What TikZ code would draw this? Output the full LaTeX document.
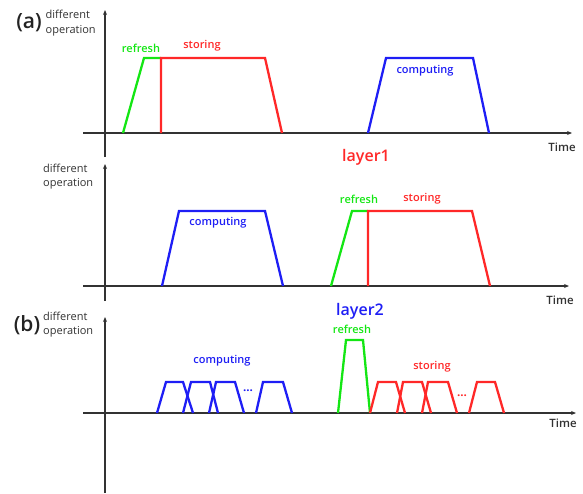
\documentclass[tikz,border=0pt]{standalone}
\usepackage{fontspec}
\setmainfont{Open Sans}
\newfontfamily\semib{Open Sans Semibold}
\usetikzlibrary{arrows.meta}
\definecolor{pgreen}{RGB}{20,230,20}
\definecolor{pred}{RGB}{255,40,40}
\definecolor{pblue}{RGB}{30,30,245}
\definecolor{axisgray}{RGB}{50,50,50}
\tikzset{
  axis/.style={draw=axisgray,line width=1.3pt},
  axarrow/.style={axis,-{Stealth[length=5pt,width=4pt]}},
  pulse/.style={line width=2.3pt,line join=miter},
  refreshline/.style={pulse,draw=pgreen},
  storeline/.style={pulse,draw=pred},
  computeline/.style={pulse,draw=pblue},
  opname/.style={font=\semib\fontsize{11}{12}\selectfont,inner sep=0pt},
  dotsmark/.style={font=\bfseries\fontsize{11.5}{12}\selectfont,inner sep=0pt},
  ylabel/.style={font=\fontsize{11}{14.5}\selectfont,text=axisgray,align=left,inner sep=0pt,anchor=west},
  tlabel/.style={font=\semib\fontsize{11.5}{13}\selectfont,text=axisgray,inner sep=0pt},
  panellabel/.style={font=\semib\fontsize{21}{22}\selectfont,text=axisgray!70!black,inner sep=0pt},
  layerlabel/.style={font=\semib\fontsize{16}{17}\selectfont,inner sep=0pt}
}
\begin{document}
\begin{tikzpicture}[x=1pt,y=-1pt]
\useasboundingbox (0,0) rectangle (583,493);

% ---------- panel (a) ----------
\coordinate (ya0) at (105,157);
\coordinate (ya1) at (105,10);
\coordinate (xa0) at (83,133);
\coordinate (xa1) at (572,133);
\draw[axarrow] (ya0) -- (ya1);
\draw[axarrow] (xa0) -- (xa1);
\node[panellabel] (pa) at (29,23) {(a)};
\node[ylabel] (yla) at (45.5,23) {different\\operation};
\node[tlabel] (ta) at (562,147) {Time};

\draw[refreshline] (123,133) -- (144,58) -- (161,58);
\draw[storeline] (161,133) -- (161,58) -- (265,58) -- (282,133);
\draw[computeline] (368,133) -- (386,58) -- (473,58) -- (489,133);
\node[opname,text=pgreen] (ra) at (141,48) {refresh};
\node[opname,text=pred] (sa) at (202,46) {storing};
\node[opname,text=pblue] (ca) at (425,71) {computing};

% ---------- layer1 ----------
\node[layerlabel,text=pred] (l1) at (366,157) {layer1};
\coordinate (y10) at (105,301);
\coordinate (y11) at (105,164);
\coordinate (x10) at (83,286);
\coordinate (x11) at (569,286);
\draw[axarrow] (y10) -- (y11);
\draw[axarrow] (x10) -- (x11);
\node[ylabel] (yl1) at (43,176.5) {different\\operation};
\node[tlabel] (t1) at (560,300) {Time};

\draw[computeline] (162,286) -- (179,211) -- (265,211) -- (283,286);
\draw[refreshline] (331,286) -- (352,211) -- (368,211);
\draw[storeline] (368,286) -- (368,211) -- (472,211) -- (490,286);
\node[opname,text=pblue] (c1) at (218,223) {computing};
\node[opname,text=pgreen] (r1) at (359,199) {refresh};
\node[opname,text=pred] (s1) at (422,199) {storing};

% ---------- panel (b), layer2 ----------
\node[layerlabel,text=pblue] (l2) at (360,311) {layer2};
\coordinate (yb0) at (105,493);
\coordinate (yb1) at (105,317);
\coordinate (xb0) at (83,413);
\coordinate (xb1) at (576,413);
\draw[axarrow] (yb0) -- (yb1);
\draw[axarrow] (xb0) -- (xb1);
\node[panellabel] (pb) at (27,325) {(b)};
\node[ylabel] (ylb) at (43,324.5) {different\\operation};
\node[tlabel] (tb) at (563,423) {Time};

% repeated computing pulses
\draw[computeline] (157,413) -- (166,382) -- (183,382) -- (193,413);
\draw[computeline] (183,413) -- (191,382) -- (210,382) -- (218,413);
\draw[computeline] (209,413) -- (216,382) -- (235,382) -- (244,413);
\draw[computeline] (256,413) -- (263,382) -- (283,382) -- (292,413);
\node[opname,text=pblue] (cb) at (222,361) {computing};
\node[dotsmark,text=pblue] (db) at (248,391) {...};

% refresh pulse
\draw[refreshline] (338,413) -- (346,340) -- (363,340) -- (370,413);
\node[opname,text=pgreen] (rb) at (352,329) {refresh};

% repeated storing pulses
\draw[storeline] (370,413) -- (378,382) -- (396,382) -- (405,413);
\draw[storeline] (397,413) -- (403,382) -- (422,382) -- (431,413);
\draw[storeline] (422,413) -- (428,382) -- (448,382) -- (457,413);
\draw[storeline] (469,413) -- (477,382) -- (495,382) -- (504,413);
\node[opname,text=pred] (sb) at (432,367) {storing};
\node[dotsmark,text=pred] (ds) at (462,396) {...};
\end{tikzpicture}
\end{document}
